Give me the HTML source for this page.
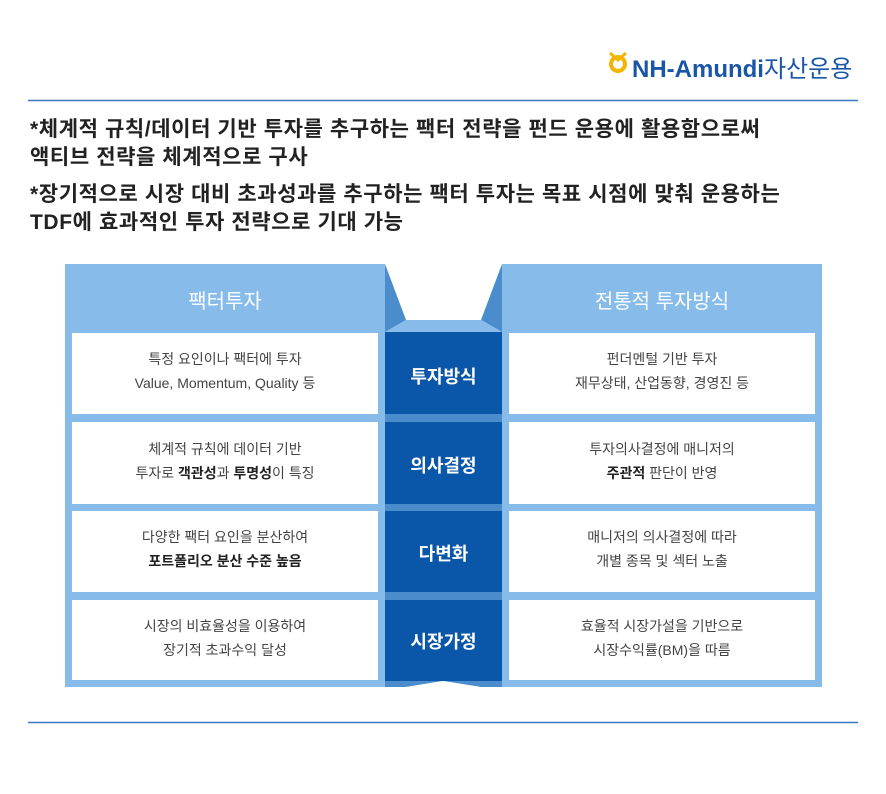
<!DOCTYPE html>
<html><head><meta charset="utf-8"><style>
body{margin:0;width:886px;height:794px;background:#fff;font-family:"Liberation Sans","Noto Sans CJK KR",sans-serif;position:relative;overflow:hidden}
.t{position:absolute;left:30px;font-size:21px;font-weight:bold;color:#222;line-height:28px;letter-spacing:0.6px;white-space:nowrap}
.c{position:absolute;text-align:center;font-size:14px;color:#444;line-height:24px;width:306px}
.c b{color:#222}
.m{position:absolute;left:385px;width:117px;text-align:center;color:#fff;font-size:18px;font-weight:bold}
.h{position:absolute;color:#fff;font-size:20px;text-align:center;width:320px;top:285px}
</style></head><body>
<svg width="886" height="794" style="position:absolute;left:0;top:0">
<line x1="28" y1="100.5" x2="858" y2="100.5" stroke="#3a78c0" stroke-width="1.5"/>
<line x1="28" y1="722.5" x2="858" y2="722.5" stroke="#3a78c0" stroke-width="1.5"/>
<rect x="65" y="264" width="320" height="423" fill="#86bbea"/>
<rect x="502" y="264" width="320" height="423" fill="#86bbea"/>
<g fill="#fff">
<rect x="72" y="333" width="306" height="81"/><rect x="72" y="422" width="306" height="82"/>
<rect x="72" y="511" width="306" height="81"/><rect x="72" y="600" width="306" height="80"/>
<rect x="509" y="333" width="306" height="81"/><rect x="509" y="422" width="306" height="82"/>
<rect x="509" y="511" width="306" height="81"/><rect x="509" y="600" width="306" height="80"/>
</g>
<polygon points="385,264 406,320 385,332" fill="#4a8ccc"/>
<polygon points="502,264 481,320 502,332" fill="#4a8ccc"/>
<polygon points="385,332 406,320 481,320 502,332" fill="#86bbea"/>
<rect x="385" y="332" width="117" height="349" fill="#0a56a8"/>
<rect x="385" y="414" width="117" height="8" fill="#4a8ccc"/>
<rect x="385" y="504" width="117" height="7" fill="#4a8ccc"/>
<rect x="385" y="592" width="117" height="8" fill="#4a8ccc"/>
<polygon points="385,681 502,681 502,687 481,687 443,681 406,687 385,687" fill="#4a8ccc"/>
<polygon points="406,687 443,681 481,687" fill="#fff"/>
<circle cx="618" cy="64" r="7" fill="none" stroke="#f2b500" stroke-width="4"/>
<path d="M610 53 L618 60 L626 53" fill="none" stroke="#f2b500" stroke-width="3"/>
</svg>
<div style="position:absolute;left:632px;top:49px;font-size:24px;font-weight:bold;color:#1a56a8;letter-spacing:0px;white-space:nowrap">NH-Amundi<span style="font-weight:normal">자산운용</span></div>
<div class="t" style="top:116px">*체계적 규칙/데이터 기반 투자를 추구하는 팩터 전략을 펀드 운용에 활용함으로써<br>액티브 전략을 체계적으로 구사</div>
<div class="t" style="top:181px">*장기적으로 시장 대비 초과성과를 추구하는 팩터 투자는 목표 시점에 맞춰 운용하는<br>TDF에 효과적인 투자 전략으로 기대 가능</div>
<div class="h" style="left:65px">팩터투자</div>
<div class="h" style="left:502px">전통적 투자방식</div>
<div class="m" style="top:363px">투자방식</div>
<div class="m" style="top:452px">의사결정</div>
<div class="m" style="top:540px">다변화</div>
<div class="m" style="top:628px">시장가정</div>
<div class="c" style="left:72px;top:347px">특정 요인이나 팩터에 투자<br>Value, Momentum, Quality 등</div>
<div class="c" style="left:72px;top:437px">체계적 규칙에 데이터 기반<br>투자로 <b>객관성</b>과 <b>투명성</b>이 특징</div>
<div class="c" style="left:72px;top:525px">다양한 팩터 요인을 분산하여<br><b>포트폴리오 분산 수준 높음</b></div>
<div class="c" style="left:72px;top:614px">시장의 비효율성을 이용하여<br>장기적 초과수익 달성</div>
<div class="c" style="left:509px;top:347px">펀더멘털 기반 투자<br>재무상태, 산업동향, 경영진 등</div>
<div class="c" style="left:509px;top:437px">투자의사결정에 매니저의<br><b>주관적</b> 판단이 반영</div>
<div class="c" style="left:509px;top:525px">매니저의 의사결정에 따라<br>개별 종목 및 섹터 노출</div>
<div class="c" style="left:509px;top:614px">효율적 시장가설을 기반으로<br>시장수익률(BM)을 따름</div>
</body></html>
